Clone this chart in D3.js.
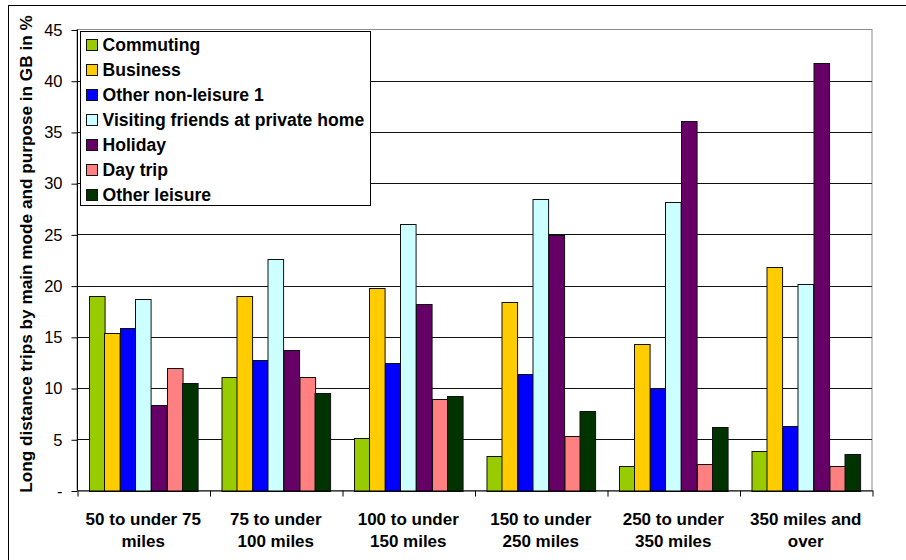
<!DOCTYPE html>
<html>
<head>
<meta charset="utf-8">
<script src="https://cdn.jsdelivr.net/npm/d3@7"></script>
<style>
  html, body { margin: 0; padding: 0; background: #fff; }
  svg { display: block; font-family: Arial, "Liberation Sans", sans-serif; }
</style>
</head>
<body>
<svg id="chart" width="906" height="560"></svg>
<script>
// Distance bands (two-line labels) and trip purposes
const categories = ["50 to under 75 miles", "75 to under 100 miles", "100 to under 150 miles",
                    "150 to under 250 miles", "250 to under 350 miles", "350 miles and over"];
const categoryLines = [["50 to under 75", "miles"], ["75 to under", "100 miles"], ["100 to under", "150 miles"],
                       ["150 to under", "250 miles"], ["250 to under", "350 miles"], ["350 miles and", "over"]];
const seriesNames = ["Commuting", "Business", "Other non-leisure 1", "Visiting friends at private home",
                     "Holiday", "Day trip", "Other leisure"];
const seriesColors = ["#99CC00", "#FFCC00", "#0000FF", "#CCFFFF", "#660066", "#FF8080", "#003300"];

// Share of long distance trips (%) per purpose, one value per distance band
const commuting     = [19.0, 11.1,  5.1,  3.4,  2.4,  3.9];
const business      = [15.4, 19.0, 19.8, 18.4, 14.3, 21.8];
const otherNonLeis  = [15.9, 12.7, 12.4, 11.4, 10.0,  6.3];
const visiting      = [18.7, 22.6, 26.0, 28.5, 28.2, 20.2];
const holiday       = [ 8.3, 13.7, 18.2, 24.9, 36.1, 41.7];
const dayTrip       = [12.0, 11.1,  8.9,  5.3,  2.6,  2.4];
const otherLeisure  = [10.5,  9.5,  9.2,  7.8,  6.2,  3.6];
const seriesValues = [commuting, business, otherNonLeis, visiting, holiday, dayTrip, otherLeisure];

const yTicks = [0, 5, 10, 15, 20, 25, 30, 35, 40, 45];

const svg = d3.select("#chart");
const plotLeft = 77, plotRight = 872, plotTop = 29.5, plotBottom = 490.5;

// outer chart frame
svg.append("rect").attr("x", 8.5).attr("y", 5.5).attr("width", 1000).attr("height", 1000)
  .attr("fill", "#fff").attr("stroke", "#000").attr("stroke-width", 1);

const x0 = d3.scaleBand().domain(categories).range([plotLeft, plotRight]).paddingInner(0).paddingOuter(0);
const x1 = d3.scaleBand().domain(seriesNames).range([0, x0.bandwidth()]).paddingInner(0).paddingOuter(0.75);
const y = d3.scaleLinear().domain([0, 45]).range([plotBottom, plotTop]);

// plot area border (gray) and gridlines
svg.append("rect").attr("x", plotLeft).attr("y", plotTop).attr("width", plotRight - plotLeft)
  .attr("height", plotBottom - plotTop)
  .attr("fill", "none").attr("stroke", "#8c8c8c").attr("stroke-width", 1);
svg.append("g").selectAll("line").data(yTicks.filter(d => d > 0 && d < 45)).join("line")
  .attr("x1", plotLeft).attr("x2", plotRight)
  .attr("y1", d => Math.round(y(d)) + 0.5).attr("y2", d => Math.round(y(d)) + 0.5)
  .attr("stroke", "#111").attr("stroke-width", 1);

// bars
const groups = svg.append("g").selectAll("g").data(categories).join("g")
  .attr("transform", d => `translate(${x0(d)},0)`);
groups.selectAll("rect")
  .data((c, ci) => seriesNames.map((s, si) => ({ s, si, v: seriesValues[si][ci] })))
  .join("rect")
  .attr("x", d => Math.round(x1(d.s)) + 0.5)
  .attr("y", d => Math.round(y(d.v)) + 0.5)
  .attr("width", x1.bandwidth())
  .attr("height", d => Math.round(y(0)) - Math.round(y(d.v)))
  .attr("fill", d => seriesColors[d.si])
  .attr("stroke", "#111").attr("stroke-width", 1);

// y axis
const yAxis = d3.axisLeft(y).tickValues(yTicks).tickFormat(d => d === 0 ? "-" : d)
  .tickSize(6).tickPadding(9);
const gy = svg.append("g").attr("transform", `translate(${plotLeft + 0.5},0.5)`).call(yAxis);
gy.select(".domain").attr("stroke", "#000").attr("d", `M0,${plotTop - 0.5}V${plotBottom - 0.5}`);
gy.selectAll(".tick line").attr("stroke", "#000");
gy.selectAll(".tick text").attr("font-size", 16.5).attr("fill", "#000")
  .attr("font-family", "Arial, 'Liberation Sans', sans-serif");

// x axis with ticks between categories
const xb = d3.scaleLinear().domain([0, categories.length]).range([plotLeft, plotRight]);
const xAxis = d3.axisBottom(xb).tickValues(d3.range(categories.length + 1)).tickFormat("")
  .tickSize(6).tickSizeOuter(0);
const gx = svg.append("g").attr("transform", `translate(0.5,${plotBottom})`).call(xAxis);
gx.select(".domain").attr("stroke", "#000");
gx.selectAll(".tick line").attr("stroke", "#000");

// category labels
const labels = svg.append("g").selectAll("text").data(categories).join("text")
  .attr("x", d => x0(d) + x0.bandwidth() / 2)
  .attr("y", 525)
  .attr("text-anchor", "middle")
  .attr("font-size", 17).attr("font-weight", "bold").attr("fill", "#000");
labels.each(function (d, i) {
  d3.select(this).selectAll("tspan").data(categoryLines[i]).join("tspan")
    .attr("x", x0(d) + x0.bandwidth() / 2)
    .attr("dy", (t, j) => j === 0 ? 0 : 21.5)
    .text(t => t);
});

// y axis title
svg.append("text")
  .attr("transform", "translate(32,254) rotate(-90)")
  .attr("text-anchor", "middle")
  .attr("font-size", 17.2).attr("font-weight", "bold").attr("fill", "#000")
  .text("Long distance trips by main mode and purpose in GB in %");

// legend
const legend = svg.append("g");
legend.append("rect").attr("x", 80.5).attr("y", 31.5).attr("width", 290).attr("height", 174)
  .attr("fill", "#fff").attr("stroke", "#000").attr("stroke-width", 1);
const items = legend.selectAll("g.item").data(seriesNames).join("g").attr("class", "item")
  .attr("transform", (d, i) => `translate(0,${45 + i * 25})`);
items.append("rect").attr("x", 86.5).attr("y", -5.5).attr("width", 11).attr("height", 11)
  .attr("fill", (d, i) => seriesColors[i]).attr("stroke", "#111").attr("stroke-width", 1);
items.append("text").attr("x", 102.5).attr("y", 0).attr("dy", "0.36em")
  .attr("font-size", 17.6).attr("font-weight", "bold").attr("fill", "#000")
  .text(d => d);
</script>
</body>
</html>
